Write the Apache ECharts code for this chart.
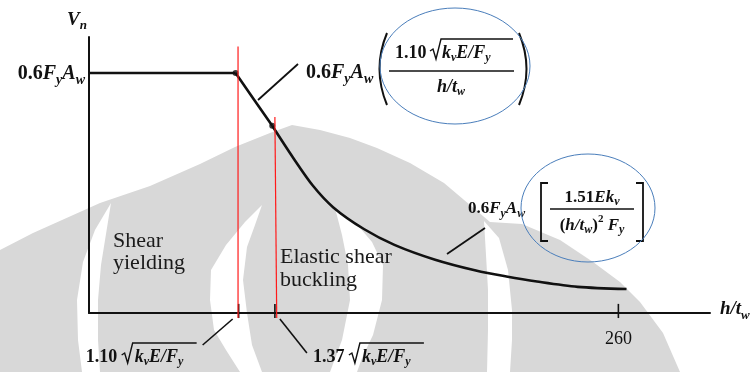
<!DOCTYPE html>
<html><head><meta charset="utf-8">
<script src="https://cdn.jsdelivr.net/npm/echarts@6/dist/echarts.min.js"></script>
<style>html,body{margin:0;padding:0;background:#fff}#c{width:754px;height:372px}</style>
</head><body><div id="c"></div>
<script>
// ---- data (x = h/tw, y = Vn / (0.6 Fy Aw)) ----
const yieldingCurve   = [[0, 1.0], [72, 1.0]];
const inelasticCurve  = [[72, 1.0], [81, 0.89], [90, 0.78]];
const elasticCurve    = [[90, 0.78], [100, 0.65], [110, 0.53], [120, 0.44], [135, 0.35], [150, 0.284],
                         [170, 0.222], [190, 0.177], [205, 0.152], [220, 0.131], [240, 0.109], [264, 0.1]];
const breakPoints     = [[72, 1.0], [90, 0.78]];
const tickValues      = [73.5, 91.3, 260];
const tickLabels      = [260];
const redLines        = [[73.2, 1.11, 73.2, -0.021], [91.3, 0.817, 92.2, -0.021]];
const xMax = 305, yMax = 1.15;

const chart = echarts.init(document.getElementById('c'), null, {renderer: 'canvas'});
const SERIF = '"Liberation Serif", "Times New Roman", serif';
const INK = '#111';

const segRender = (stroke, lw) => function (params, api) {
  const a = api.coord([api.value(0), api.value(1)]);
  const b = api.coord([api.value(2), api.value(3)]);
  return {type: 'line', shape: {x1: a[0], y1: a[1], x2: b[0], y2: b[1]}, style: {stroke: stroke, lineWidth: lw}};
};

chart.setOption({
  animation: false,
  backgroundColor: '#fff',
  grid: {left: 89, right: 44, top: 37, bottom: 59},
  xAxis: {
    type: 'value', min: 0, max: xMax,
    axisLine: {lineStyle: {color: INK, width: 2}},
    axisTick: {show: false},
    splitLine: {show: false},
    axisLabel: {customValues: tickLabels, fontFamily: SERIF, fontSize: 18, color: INK, margin: 17}
  },
  yAxis: {
    type: 'value', min: 0, max: yMax,
    axisLine: {show: true, lineStyle: {color: INK, width: 2}},
    axisTick: {show: false}, axisLabel: {show: false}, splitLine: {show: false}
  },
  series: [
    {type: 'line', data: yieldingCurve, showSymbol: false, lineStyle: {color: INK, width: 2.6}, z: 3},
    {type: 'line', data: inelasticCurve, showSymbol: false, lineStyle: {color: INK, width: 2.6}, z: 3},
    {type: 'line', data: elasticCurve, showSymbol: false, smooth: 0.3, lineStyle: {color: INK, width: 2.6}, z: 3},
    {type: 'scatter', data: breakPoints, symbolSize: 6, itemStyle: {color: INK}, z: 4},
    {type: 'custom', data: tickValues.map(t => [t, -0.021, t, 0.038]), renderItem: segRender(INK, 1.6), clip: false, z: 4},
    {type: 'custom', data: redLines, renderItem: segRender('#ff1a1a', 1.2), clip: false, z: 5}
  ]
});

// ---------- annotation helpers ----------
const ctx = document.createElement('canvas').getContext('2d');
function fontStr(p) { return (p.it ? 'italic ' : '') + (p.b ? 'bold ' : '') + p.s + 'px ' + SERIF; }
function width(p) { ctx.font = fontStr(p); return ctx.measureText(p.t).width; }
function P(t, s, it, b, dy) { return {t: t, s: s, it: !!it, b: !!b, dy: dy || 0}; }
const G = [];
function row(parts, x, base, align, color) {
  const w = parts.reduce((a, p) => a + width(p), 0);
  let cx = align === 'center' ? x - w / 2 : align === 'right' ? x - w : x;
  parts.forEach(p => {
    G.push({type: 'text', x: cx, y: base + p.dy - 0.34 * p.s, z: 20, silent: true,
      style: {text: p.t, font: fontStr(p), fill: color || INK, textAlign: 'left', textVerticalAlign: 'middle', align: 'left', verticalAlign: 'middle'}});
    cx += width(p);
  });
  return cx;
}
function seg(x1, y1, x2, y2, lw, color) {
  G.push({type: 'line', z: 20, silent: true, shape: {x1, y1, x2, y2}, style: {stroke: color || INK, lineWidth: lw || 1.5}});
}
function poly(points, lw, color) {
  G.push({type: 'polyline', z: 20, silent: true, shape: {points}, style: {stroke: color || INK, lineWidth: lw || 1.5, fill: null}});
}
function sqrtSign(x, base, top, xEnd) {
  poly([[x, base - 8], [x + 3, base - 10], [x + 6, base], [x + 11, top], [xEnd, top]], 1.4);
}
const FyAw = s => [P('0.6', s, 0, 1), P('F', s, 1, 1), P('y', s * 0.7, 1, 1, 4), P('A', s, 1, 1), P('w', s * 0.7, 1, 1, 4)];
const kvEFy = s => [P('k', s, 1, 1), P('v', 12, 1, 1, 3), P('E/F', s, 1, 1), P('y', 12, 1, 1, 3)];

// watermark (background logo)
const WM = '#d8d8d8';
const wmShapes = [
  {fill: WM, pts: [[0,250],[33,233],[100,203],[150,186],[200,164],[235,147],[270,133],[292,125],[320,130],[350,138],[377,148],[410,163],[444,183],[470,205],[490,222],[522,224],[560,240],[593,262],[620,282],[640,302],[663,333],[680,372],[0,372]]},
  {fill: '#fff', pts: [[111,203],[95,230],[83,262],[77,300],[78,340],[82,372],[100,372],[98,340],[98,300],[101,265],[111,203]]},
  {fill: '#fff', pts: [[262,205],[245,222],[226,245],[211,270],[210,300],[214,330],[226,350],[240,372],[262,372],[252,345],[247,313],[243,280],[247,247],[255,225],[262,205]]},
  {fill: '#fff', pts: [[335,208],[355,222],[372,242],[383,265],[382,300],[373,335],[362,358],[357,372],[330,372],[342,340],[350,300],[348,265],[342,235],[335,208]]},
  {fill: '#fff', pts: [[484,221],[499,238],[508,270],[512,310],[512,340],[510,372],[487,372],[488,330],[488,290],[486,255],[484,221]]}
];
wmShapes.forEach(w => G.push({type: 'polygon', z: -10, silent: true, shape: {points: w.pts}, style: {fill: w.fill}}));

// axis titles
row([P('V', 19, 1, 1), P('n', 13, 1, 1, 3)], 67, 27, 'left');
row([P('h/t', 19, 1, 1), P('w', 13, 1, 1, 4)], 720, 316, 'left');

// plateau value label
const pPlat = chart.convertToPixel({gridIndex: 0}, yieldingCurve[0]);
row(FyAw(20), pPlat[0] - 4, pPlat[1] + 8, 'right');

// formula A (inelastic buckling)
row(FyAw(20), 306, 80, 'left');
G.push({type: 'bezierCurve', z: 20, silent: true, shape: {x1: 387, y1: 33, x2: 387, y2: 105, cpx1: 372, cpy1: 69}, style: {stroke: INK, lineWidth: 2, fill: null}});
G.push({type: 'bezierCurve', z: 20, silent: true, shape: {x1: 519, y1: 33, x2: 519, y2: 105, cpx1: 534, cpy1: 69}, style: {stroke: INK, lineWidth: 2, fill: null}});
row([P('1.10', 18, 0, 1)], 395, 59, 'left');
sqrtSign(430, 59, 39, 513);
row(kvEFy(18), 442, 59, 'left');
seg(389, 71, 514, 71, 1.5);
row([P('h/t', 18, 1, 1), P('w', 12, 1, 1, 3)], 451, 93, 'center');
seg(298, 64, 258, 100, 1.8);
G.push({type: 'ellipse', z: 21, silent: true, shape: {cx: 455, cy: 66, rx: 75, ry: 58}, style: {stroke: '#4a7ebb', lineWidth: 1, fill: null}});

// formula B (elastic buckling)
row(FyAw(17), 468, 214, 'left');
poly([[548, 183], [541, 183], [541, 241], [548, 241]], 1.8);
poly([[636, 183], [643, 183], [643, 241], [636, 241]], 1.8);
row([P('1.51', 17, 0, 1), P('Ek', 17, 1, 1), P('v', 12, 1, 1, 3)], 592, 203, 'center');
seg(550, 209, 634, 209, 1.5);
row([P('(', 17, 0, 1), P('h/t', 17, 1, 1), P('w', 12, 1, 1, 3), P(')', 17, 0, 1), P('2', 11, 0, 1, -8), P(' F', 17, 1, 1), P('y', 12, 1, 1, 3)], 592, 231, 'center');
seg(485, 228, 447, 254, 1.8);
G.push({type: 'ellipse', z: 21, silent: true, shape: {cx: 588, cy: 208, rx: 67, ry: 54}, style: {stroke: '#4a7ebb', lineWidth: 1, fill: null}});

// region texts
row([P('Shear', 22)], 113, 249, 'left', '#1a1a1a');
row([P('yielding', 22)], 113, 271, 'left', '#1a1a1a');
row([P('Elastic shear', 22)], 280, 265, 'left', '#1a1a1a');
row([P('buckling', 22)], 280, 288, 'left', '#1a1a1a');

// limit labels under the axis
const t1 = chart.convertToPixel({gridIndex: 0}, [tickValues[0], 0]);
const t2 = chart.convertToPixel({gridIndex: 0}, [tickValues[1], 0]);
seg(t1[0] - 6, t1[1] + 6, t1[0] - 36, t1[1] + 32, 1.6);
let x0 = t1[0] - 153;
row([P('1.10', 18, 0, 1)], x0, 363, 'left');
sqrtSign(x0 + 36, 363, 343, x0 + 111);
row(kvEFy(18), x0 + 49, 363, 'left');
seg(t2[0] + 5, t2[1] + 6, t2[0] + 32, t2[1] + 40, 1.6);
x0 = t2[0] + 38;
row([P('1.37', 18, 0, 1)], x0, 363, 'left');
sqrtSign(x0 + 36, 363, 343, x0 + 111);
row(kvEFy(18), x0 + 49, 363, 'left');

chart.setOption({graphic: {elements: G}});
</script></body></html>
